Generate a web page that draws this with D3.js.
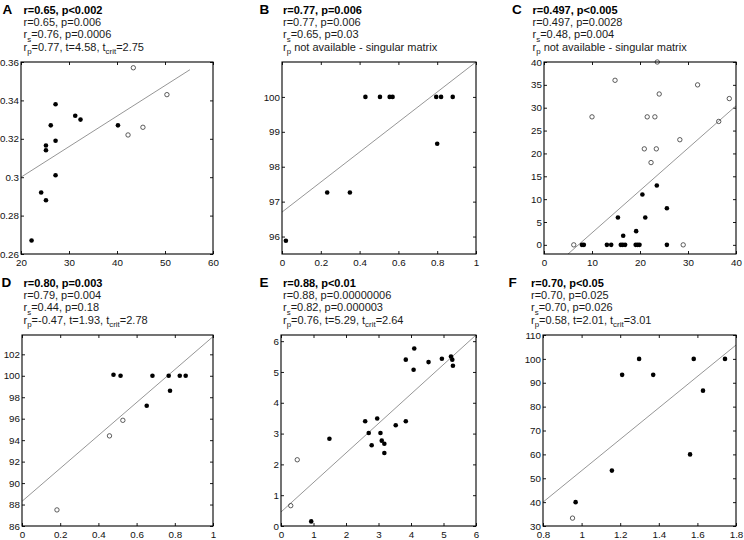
<!DOCTYPE html>
<html><head><meta charset="utf-8">
<script src="https://cdn.jsdelivr.net/npm/d3@7"></script>
<style>
body{margin:0;background:#fff}
text{font-family:"Liberation Sans",Arial,Helvetica,sans-serif}
</style></head>
<body><svg id="c" width="744" height="540"></svg>
<script>
// ---------------- data ----------------
const panelIds = ["A","B","C","D","E","F"];

const aTitles = ["r=0.65, p<0.002","r=0.65, p=0.006","r_s=0.76, p=0.0006","r_p=0.77, t=4.58, t_crit=2.75"];
const bTitles = ["r=0.77, p=0.006","r=0.77, p=0.006","r_s=0.65, p=0.03","r_p not available - singular matrix"];
const cTitles = ["r=0.497, p<0.005","r=0.497, p=0.0028","r_s=0.48, p=0.004","r_p not available - singular matrix"];
const dTitles = ["r=0.80, p=0.003","r=0.79, p=0.004","r_s=0.44, p=0.18","r_p=-0.47, t=1.93, t_crit=2.78"];
const eTitles = ["r=0.88, p<0.01","r=0.88, p=0.00000006","r_s=0.82, p=0.000003","r_p=0.76, t=5.29, t_crit=2.64"];
const fTitles = ["r=0.70, p<0.05","r=0.70, p=0.025","r_s=0.70, p=0.026","r_p=0.58, t=2.01, t_crit=3.01"];

const aXTicks = [20,30,40,50,60];
const aYTicks = [0.26,0.28,0.30,0.32,0.34,0.36];
const aXDomain = [20,60], aYDomain = [0.26,0.36];
const aFilled = [[22.2,0.267],[24.2,0.292],[25.2,0.288],[25.2,0.3165],[25.2,0.314],[26.2,0.327],[27.2,0.338],[27.2,0.319],[27.2,0.301],[31.3,0.332],[32.4,0.330],[40.2,0.327]];
const aHollow = [[43.4,0.357],[42.3,0.322],[45.4,0.326],[50.4,0.343]];
const aFit = [[20,0.300],[55.2,0.356]];

const bXTicks = [0,0.2,0.4,0.6,0.8,1];
const bYTicks = [96,97,98,99,100];
const bXDomain = [0,1], bYDomain = [95.5,101];
const bFilled = [[0.02,95.88],[0.233,97.26],[0.35,97.26],[0.43,100],[0.505,100],[0.555,100],[0.57,100],[0.795,100],[0.82,100],[0.88,100],[0.80,98.66]];
const bHollow = [];
const bFit = [[0,96.7],[1,101]];

const cXTicks = [0,10,20,30,40];
const cYTicks = [0,5,10,15,20,25,30,35,40];
const cXDomain = [0,40], cYDomain = [-2,40];
const cFilled = [[7.9,0],[8.3,0],[13.1,0],[14.0,0],[15.4,6],[16.0,0],[16.4,0],[16.9,0],[16.5,2],[19.1,0],[19.5,0],[19.9,0],[19.2,3],[20.5,11],[21.1,6],[23.5,13],[25.6,8],[25.6,0]];
const cHollow = [[6.2,0],[10.0,28],[14.8,36],[20.9,21],[21.5,28],[22.3,18],[23.1,28],[23.4,21],[23.6,40],[24.0,33],[28.3,23],[29.0,0],[32.0,35],[36.4,27],[38.6,32]];
const cFit = [[5.0,-2],[40,30.4]];

const dXTicks = [0,0.2,0.4,0.6,0.8,1];
const dYTicks = [86,88,90,92,94,96,98,100,102];
const dXDomain = [0,1], dYDomain = [86,103.8];
const dFilled = [[0.479,100.1],[0.516,100],[0.653,97.2],[0.683,100],[0.768,100],[0.775,98.6],[0.826,100],[0.857,100]];
const dHollow = [[0.183,87.5],[0.458,94.4],[0.528,95.85]];
const dFit = [[0,88.3],[1,103.65]];

const eXTicks = [0,1,2,3,4,5,6];
const eYTicks = [0,1,2,3,4,5,6];
const eXDomain = [0,6], eYDomain = [0,6.2];
const eFilled = [[0.93,0.15],[1.49,2.83],[2.59,3.40],[2.70,3.02],[2.79,2.62],[2.96,3.49],[3.06,3.02],[3.10,2.77],[3.18,2.67],[3.18,2.37],[3.53,3.27],[3.84,3.40],[3.84,5.40],[4.08,5.07],[4.10,5.76],[4.54,5.32],[4.95,5.43],[5.23,5.50],[5.27,5.40],[5.29,5.20]];
const eHollow = [[0.30,0.66],[0.50,2.15]];
const eFit = [[0,0.455],[6,6.2]];

const fXTicks = [0.8,1,1.2,1.4,1.6,1.8];
const fYTicks = [30,40,50,60,70,80,90,100,110];
const fXDomain = [0.8,1.8], fYDomain = [30,110];
const fFilled = [[0.969,40],[1.157,53.2],[1.210,93.3],[1.298,100],[1.371,93.3],[1.562,60],[1.581,100],[1.629,86.7],[1.743,100]];
const fHollow = [[0.953,33.3]];
const fFit = [[0.8,40],[1.8,105.8]];

// ---------------- layout (positions only) ----------------
const layout = {
  A:{left:21, right:213, top:62, bottom:254, tx:23.5, lx:2.5, ty:13.5},
  B:{left:282,right:476, top:62, bottom:254, tx:283,  lx:259.5, ty:13.5},
  C:{left:544,right:736, top:62, bottom:254, tx:532.5,lx:512, ty:13.5},
  D:{left:22, right:213, top:335,bottom:526, tx:23.5, lx:1.5, ty:286.5},
  E:{left:281,right:476, top:335,bottom:526, tx:283,  lx:259.5, ty:286.5},
  F:{left:543,right:736, top:335,bottom:526, tx:531,  lx:508.5, ty:286.5}
};

const panels = [
  {id:"A",titles:aTitles,xt:aXTicks,yt:aYTicks,xd:aXDomain,yd:aYDomain,filled:aFilled,hollow:aHollow,fit:aFit},
  {id:"B",titles:bTitles,xt:bXTicks,yt:bYTicks,xd:bXDomain,yd:bYDomain,filled:bFilled,hollow:bHollow,fit:bFit},
  {id:"C",titles:cTitles,xt:cXTicks,yt:cYTicks,xd:cXDomain,yd:cYDomain,filled:cFilled,hollow:cHollow,fit:cFit},
  {id:"D",titles:dTitles,xt:dXTicks,yt:dYTicks,xd:dXDomain,yd:dYDomain,filled:dFilled,hollow:dHollow,fit:dFit},
  {id:"E",titles:eTitles,xt:eXTicks,yt:eYTicks,xd:eXDomain,yd:eYDomain,filled:eFilled,hollow:eHollow,fit:eFit},
  {id:"F",titles:fTitles,xt:fXTicks,yt:fYTicks,xd:fXDomain,yd:fYDomain,filled:fFilled,hollow:fHollow,fit:fFit}
];

const svg = d3.select("#c");
const fmt = v => String(+v.toFixed(4));
const FS = 11, LS = 12.4;

function richText(g, str, x, y, size, weight, color){
  const t = g.append("text").attr("x",x).attr("y",y)
    .attr("font-size",size).attr("font-weight",weight).attr("fill",color);
  const parts = str.split(/_([a-z]+)/);
  let shifted = false;
  parts.forEach((p,i)=>{
    if(!p) return;
    const ts = t.append("tspan").text(p);
    if(i%2===1){ ts.attr("font-size",size*0.72).attr("dy",size*0.3); shifted=true; }
    else if(shifted){ ts.attr("dy",-size*0.3); shifted=false; }
  });
  return t;
}

panels.forEach(p=>{
  const L = layout[p.id];
  const g = svg.append("g");
  const x = d3.scaleLinear().domain(p.xd).range([L.left, L.right]);
  const y = d3.scaleLinear().domain(p.yd).range([L.bottom, L.top]);

  // titles
  g.append("text").attr("x",L.lx).attr("y",L.ty).attr("font-size",13.5)
    .attr("font-weight","bold").attr("fill","#000").text(p.id);
  p.titles.forEach((s,i)=>{
    richText(g, s, L.tx, L.ty + i*LS, FS, i===0?"bold":"normal", i===0?"#000":"#1a1a1a");
  });

  // clip
  const cid = "clip"+p.id;
  g.append("clipPath").attr("id",cid).append("rect")
    .attr("x",L.left).attr("y",L.top).attr("width",L.right-L.left).attr("height",L.bottom-L.top);

  // axes with inward ticks
  const ax = g.append("g").attr("transform",`translate(0,${L.bottom})`)
    .call(d3.axisBottom(x).tickValues(p.xt).tickFormat(fmt).tickSizeInner(-3).tickSizeOuter(0).tickPadding(5.5));
  const axT = g.append("g").attr("transform",`translate(0,${L.top})`)
    .call(d3.axisTop(x).tickValues(p.xt).tickFormat("").tickSizeInner(-3).tickSizeOuter(0));
  const ay = g.append("g").attr("transform",`translate(${L.left},0)`)
    .call(d3.axisLeft(y).tickValues(p.yt).tickFormat(fmt).tickSizeInner(-3).tickSizeOuter(0).tickPadding(2));
  const ayR = g.append("g").attr("transform",`translate(${L.right},0)`)
    .call(d3.axisRight(y).tickValues(p.yt).tickFormat("").tickSizeInner(-3).tickSizeOuter(0));
  [ax,axT,ay,ayR].forEach(a=>{
    a.select(".domain").remove();
    a.selectAll("line").attr("stroke","#000").attr("stroke-width",0.9);
    a.selectAll("text").attr("font-size",9.8).attr("fill","#111")
      .attr("font-family",'"Liberation Sans",Arial,Helvetica,sans-serif');
  });

  // fit line
  g.append("line").attr("clip-path",`url(#${cid})`)
    .attr("x1",x(p.fit[0][0])).attr("y1",y(p.fit[0][1]))
    .attr("x2",x(p.fit[1][0])).attr("y2",y(p.fit[1][1]))
    .attr("stroke","#8a8a8a").attr("stroke-width",0.9);

  // points
  g.selectAll("circle.h").data(p.hollow).join("circle").attr("class","h")
    .attr("cx",d=>x(d[0])).attr("cy",d=>y(d[1])).attr("r",2.2)
    .attr("fill","none").attr("stroke","#333").attr("stroke-width",0.8);
  g.selectAll("circle.f").data(p.filled).join("circle").attr("class","f")
    .attr("cx",d=>x(d[0])).attr("cy",d=>y(d[1])).attr("r",2.3)
    .attr("fill","#000");

  // box
  g.append("rect").attr("x",L.left).attr("y",L.top)
    .attr("width",L.right-L.left).attr("height",L.bottom-L.top)
    .attr("fill","none").attr("stroke","#000").attr("stroke-width",1.1);
});
</script>
</body></html>
